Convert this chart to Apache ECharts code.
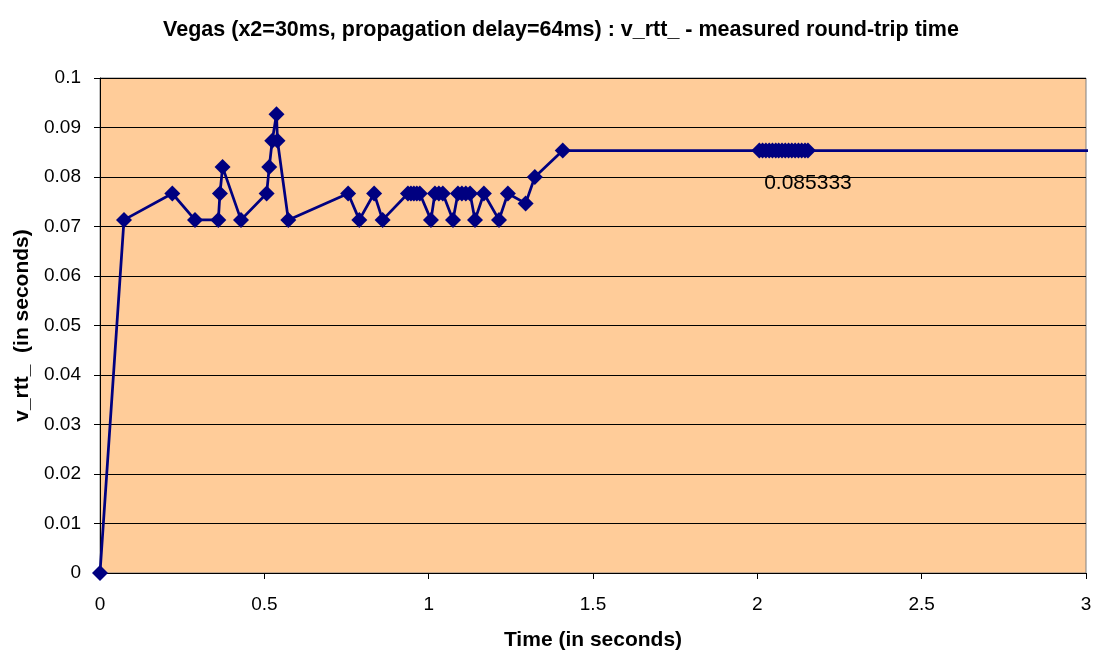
<!DOCTYPE html>
<html>
<head>
<meta charset="utf-8">
<script src="https://cdn.jsdelivr.net/npm/echarts@6/dist/echarts.min.js"></script>
<style>html,body{margin:0;padding:0;background:#fff}#c{width:1094px;height:652px}</style>
</head>
<body>
<div id="c"></div>
<script>
const titleText = "Vegas (x2=30ms, propagation delay=64ms) : v_rtt_ - measured round-trip time";
const xAxisTitle = "Time (in seconds)";
const yAxisTitle = "v_rtt_  (in seconds)";
const timeValues = [
  0, 0.073, 0.220, 0.289, 0.360, 0.365, 0.373, 0.429, 0.507, 0.515, 0.524, 0.537, 0.540, 0.573,
  0.755, 0.789, 0.834, 0.860,
  0.937, 0.946, 0.955, 0.964, 0.973, 1.007,
  1.019, 1.031, 1.043, 1.074,
  1.089, 1.101, 1.113, 1.126, 1.141,
  1.168, 1.214, 1.241, 1.295, 1.323, 1.408,
  2.006, 2.016, 2.026, 2.036, 2.046, 2.056, 2.065, 2.075, 2.085, 2.095, 2.105, 2.115, 2.125, 2.135, 2.145, 2.154,
  3.3
];
const rttValues = [
  0, 0.071333, 0.076667, 0.071333, 0.071333, 0.076667, 0.082, 0.071333, 0.076667, 0.082, 0.087333, 0.092667, 0.087333, 0.071333,
  0.076667, 0.071333, 0.076667, 0.071333,
  0.076667, 0.076667, 0.076667, 0.076667, 0.076667, 0.071333,
  0.076667, 0.076667, 0.076667, 0.071333,
  0.076667, 0.076667, 0.076667, 0.076667, 0.071333,
  0.076667, 0.071333, 0.076667, 0.074667, 0.08, 0.085333,
  0.085333, 0.085333, 0.085333, 0.085333, 0.085333, 0.085333, 0.085333, 0.085333, 0.085333, 0.085333, 0.085333, 0.085333, 0.085333, 0.085333, 0.085333, 0.085333,
  0.085333
];
const labelledIndex = 54;
const labelText = "0.085333";

const font = 'Liberation Sans, Arial, sans-serif';
const data = timeValues.map((t, i) => {
  const item = { value: [t, rttValues[i]] };
  if (i === labelledIndex) {
    item.label = { show: true, formatter: labelText, position: 'bottom', distance: 14,
      color: '#000', fontSize: 21, fontFamily: font };
  }
  return item;
});

const chart = echarts.init(document.getElementById('c'));
chart.setOption({
  animation: false,
  title: { text: titleText, left: 556, textAlign: 'center', top: 14,
    textStyle: { fontFamily: font, fontWeight: 'bold', fontSize: 21.5, color: '#000' } },
  grid: { left: 100, right: 8, top: 78, bottom: 79, show: true, containLabel: false,
    outerBoundsMode: 'none',
    backgroundColor: '#FFCC99', borderColor: '#808080', borderWidth: 1 },
  xAxis: {
    type: 'value', min: 0, max: 3, interval: 0.5,
    name: xAxisTitle, nameLocation: 'middle', nameGap: 57,
    nameTextStyle: { fontFamily: font, fontWeight: 'bold', fontSize: 21, color: '#000' },
    axisLine: { show: true, lineStyle: { color: '#000', width: 1 } },
    axisTick: { show: true, length: 6, lineStyle: { color: '#000' } },
    axisLabel: { fontFamily: font, fontSize: 19, color: '#000', margin: 22 },
    splitLine: { show: false }
  },
  yAxis: {
    type: 'value', min: 0, max: 0.1, interval: 0.01,
    name: yAxisTitle, nameLocation: 'middle', nameGap: 67,
    nameTextStyle: { fontFamily: font, fontWeight: 'bold', fontSize: 21, color: '#000' },
    axisLine: { show: true, lineStyle: { color: '#000', width: 1 } },
    axisTick: { show: true, length: 6, lineStyle: { color: '#000' } },
    axisLabel: { fontFamily: font, fontSize: 19, color: '#000', margin: 19 },
    splitLine: { show: true, lineStyle: { color: '#000', width: 1 } }
  },
  series: [{
    type: 'line', data: data, clip: false,
    symbol: 'diamond', symbolSize: 16, showAllSymbol: true,
    lineStyle: { color: '#000080', width: 2.75 },
    itemStyle: { color: '#000080' }
  }]
});
</script>
</body>
</html>
